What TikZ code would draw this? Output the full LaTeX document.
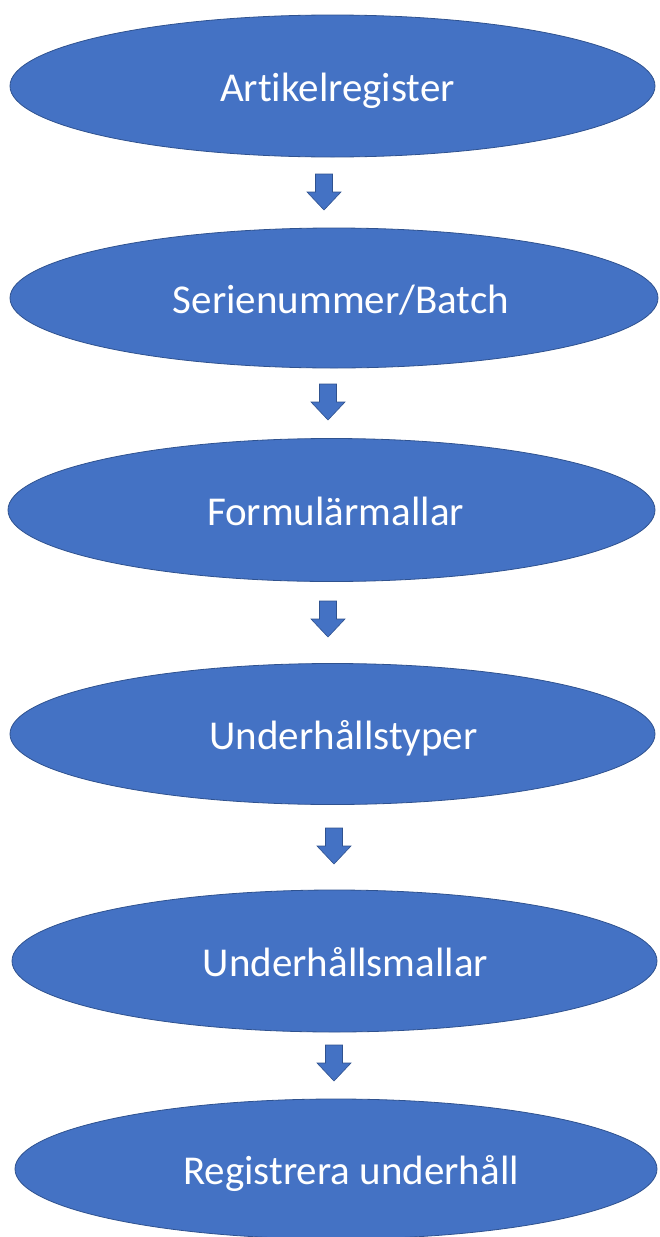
\documentclass[tikz,border=0pt]{standalone}
\usepackage{fontspec}
\setmainfont{Carlito}[Ligatures={NoCommon}]
\usetikzlibrary{shapes.geometric}
\definecolor{officeblue}{HTML}{4472C4}
\definecolor{officeedge}{HTML}{2F528F}
\tikzset{
  stage/.style={ellipse, fill=officeblue, draw=officeedge, line width=0.8pt,
    inner sep=0pt, text=white, text height=30pt, text depth=0pt,
    font=\fontsize{41}{49}\selectfont},
  blockarrow/.style={fill=officeblue, draw=officeedge, line width=0.6pt, line join=miter},
}
\newcommand\offsettext[2]{\kern#1pt\kern#1pt#2}
\newcommand\downblock[1]{%
  \draw[blockarrow, shift={(#1)}] (-8.5pt,0pt) -- (8.5pt,0pt) -- (8.5pt,-18pt) -- (17pt,-18pt)
    -- (0pt,-36pt) -- (-17pt,-18pt) -- (-8.5pt,-18pt) -- cycle;}
\begin{document}
\begin{tikzpicture}[x=1pt,y=1pt]
\useasboundingbox (0,0) rectangle (659,-1237);
\node[stage, minimum width=645pt, minimum height=142pt] (e1) at (332.5,-86) {\offsettext{5}{Artikelregister}};
\node[stage, minimum width=648pt, minimum height=140pt] (e2) at (334,-298) {\offsettext{7}{Serienummer/Batch}};
\node[stage, minimum width=647pt, minimum height=143pt] (e3) at (331.5,-510) {\offsettext{4}{Formulärmallar}};
\node[stage, minimum width=645pt, minimum height=141pt] (e4) at (332.5,-734) {\offsettext{11}{Underhållstyper}};
\node[stage, minimum width=645pt, minimum height=142pt] (e5) at (334.5,-961) {\offsettext{11}{Underhållsmallar}};
\node[stage, minimum width=642pt, minimum height=140pt] (e6) at (336,-1169) {\offsettext{15}{Registrera underhåll}};
\coordinate (a1) at (324,-174);
\coordinate (a2) at (328,-384);
\coordinate (a3) at (328,-601);
\coordinate (a4) at (334,-828);
\coordinate (a5) at (334,-1045);
\downblock{a1}
\downblock{a2}
\downblock{a3}
\downblock{a4}
\downblock{a5}
\end{tikzpicture}
\end{document}
